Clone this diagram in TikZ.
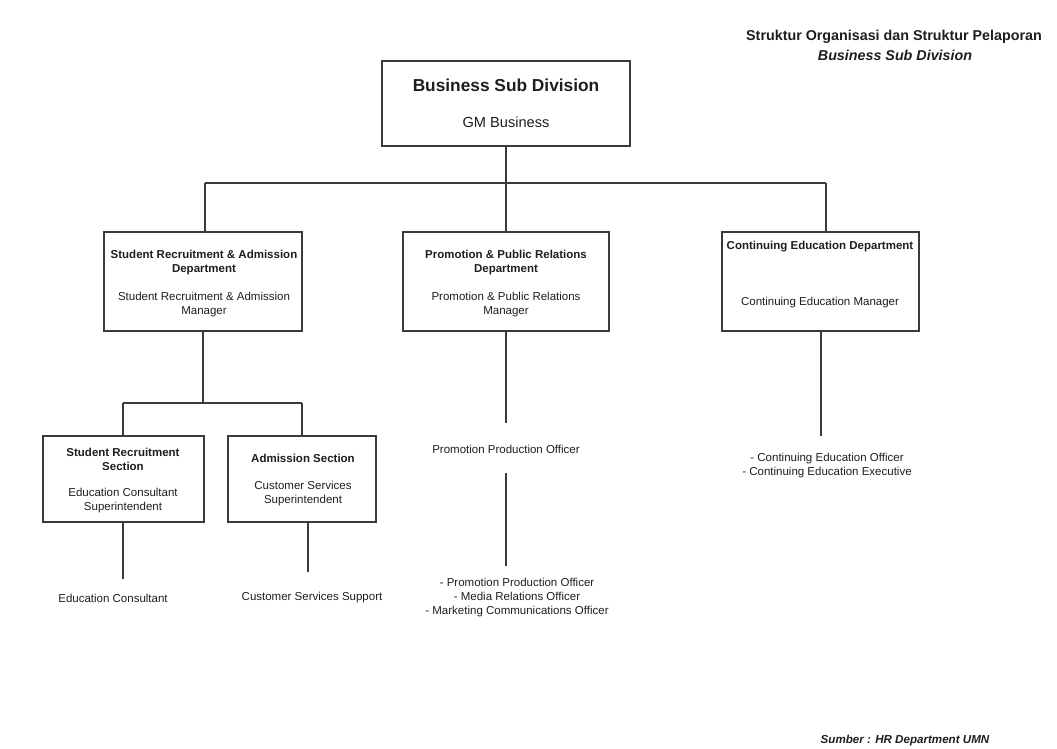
\documentclass[tikz,border=0pt]{standalone}
\usepackage{fontspec}
\setmainfont{Liberation Sans}
\definecolor{linegray}{HTML}{3A3A3A}
\definecolor{inkgray}{HTML}{1E1E1E}
\begin{document}
\begin{tikzpicture}[x=1pt,y=-1pt]
 \tikzset{unit/.style={draw=linegray, line width=1.4pt, inner sep=0pt},
          link/.style={draw=linegray, line width=1.4pt},
          txt/.style={text=inkgray, align=center, inner sep=0pt, font=\fontsize{11.5}{14}\selectfont},
          head/.style={txt, font=\fontsize{11.5}{14}\selectfont\bfseries}}
  \useasboundingbox (0,0) rectangle (1057,749);
  % title block
  \node[txt, font=\fontsize{14.3}{18}\selectfont\bfseries] (T1) at (894,37) {Struktur Organisasi dan Struktur Pelaporan};
  \node[txt, font=\fontsize{14.3}{18}\selectfont\bfseries\itshape] (T2) at (895,55) {Business Sub Division};
  \node[txt, font=\fontsize{11.6}{14}\selectfont\bfseries\itshape] (SRC) at (905,740) {Sumber : HR Department UMN};
  % boxes
  \node[unit, minimum width=248, minimum height=85] (B0) at (506,103.5) {};
  \node[unit, minimum width=198, minimum height=99] (D1) at (203,281.5) {};
  \node[unit, minimum width=206, minimum height=99] (D2) at (506,281.5) {};
  \node[unit, minimum width=197, minimum height=99] (D3) at (820.5,281.5) {};
  \node[unit, minimum width=161, minimum height=86] (S1) at (123.5,479) {};
  \node[unit, minimum width=148, minimum height=86] (S2) at (302,479) {};
  % box texts
  \node[txt, font=\fontsize{17.3}{20}\selectfont\bfseries] (B0t) at (506,85) {Business Sub Division};
  \node[txt, font=\fontsize{14.6}{18}\selectfont] (B0m) at (506,122) {GM Business};
  \node[head] (D1t) at (204,262.5) {Student Recruitment \& Admission\\Department};
  \node[txt] (D1m) at (204,304.5) {Student Recruitment \& Admission\\Manager};
  \node[head] (D2t) at (506,262.5) {Promotion \& Public Relations\\Department};
  \node[txt] (D2m) at (506,304.5) {Promotion \& Public Relations\\Manager};
  \node[head] (D3t) at (820,247) {Continuing Education Department};
  \node[txt] (D3m) at (820,303) {Continuing Education Manager};
  \node[head] (S1t) at (123,459) {Student Recruitment\\Section};
  \node[txt] (S1m) at (123,501) {Education Consultant\\Superintendent};
  \node[head] (S2t) at (303,458) {Admission Section};
  \node[txt] (S2m) at (303,494) {Customer Services\\Superintendent};
  % staff texts
  \node[txt] (E1) at (113,598) {Education Consultant};
  \node[txt] (E2) at (312,598) {Customer Services Support};
  \node[txt] (P1) at (506,449) {Promotion Production Officer};
  \node[txt] (P2) at (517,598) {- Promotion Production Officer\\- Media Relations Officer\\- Marketing Communications Officer};
  \node[txt] (C1) at (827,465.5) {- Continuing Education Officer\\- Continuing Education Executive};
  % junctions
  \coordinate (J0) at (506,183);
  \coordinate (J1) at (205,183);
  \coordinate (J3) at (826,183);
  \coordinate (K0) at (203,403);
  \coordinate (K1) at (123,403);
  \coordinate (K2) at (302,403);
  \coordinate (L1) at (123,579);
  \coordinate (L2) at (308,572);
  \coordinate (L3) at (506,423);
  \coordinate (L4) at (506,473);
  \coordinate (L5) at (506,566);
  \coordinate (L6) at (821,436);
  % connectors
  \draw[link] (B0.south) -- (J0);
  \draw[link] (J1) -- (J3);
  \draw[link] (J1) -- (J1 |- D1.north);
  \draw[link] (J0) -- (D2.north);
  \draw[link] (J3) -- (J3 |- D3.north);
  \draw[link] (D1.south) -- (K0);
  \draw[link] (K1) -- (K2);
  \draw[link] (K1) -- (K1 |- S1.north);
  \draw[link] (K2) -- (K2 |- S2.north);
  \draw[link] (L1 |- S1.south) -- (L1);
  \draw[link] (L2 |- S2.south) -- (L2);
  \draw[link] (D2.south) -- (L3);
  \draw[link] (L4) -- (L5);
  \draw[link] (L6 |- D3.south) -- (L6);
\end{tikzpicture}
\end{document}
